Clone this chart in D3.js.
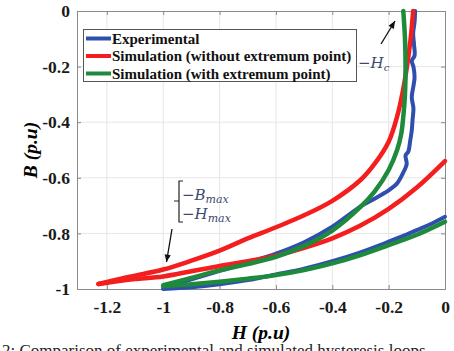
<!DOCTYPE html>
<html>
<head>
<meta charset="utf-8">
<script src="https://cdn.jsdelivr.net/npm/d3@7"></script>
<style>
  body { margin: 0; background: #fff; }
  svg { display: block; }
</style>
</head>
<body>
<div id="chart"></div>
<script>
// axis ticks
const hTicks = [-1.2, -1, -0.8, -0.6, -0.4, -0.2, 0]
const hTickLabels = ['-1.2', '-1', '-0.8', '-0.6', '-0.4', '-0.2', '0']
const bTicks = [-1, -0.8, -0.6, -0.4, -0.2, 0]
const bTickLabels = ['-1', '-0.8', '-0.6', '-0.4', '-0.2', '0']

const legendLabels = ['Experimental', 'Simulation (without extremum point)', 'Simulation (with extremum point)']

// experimental, upper branch (H, B)
const expUpperH = [-1.0, -0.9, -0.8, -0.7, -0.6, -0.5, -0.4, -0.35, -0.3, -0.25, -0.2, -0.17, -0.15, -0.136, -0.14, -0.13, -0.124, -0.118, -0.115, -0.112, -0.118, -0.112, -0.108, -0.112, -0.118, -0.108, -0.11, -0.113, -0.108, -0.106]
const expUpperB = [-0.997, -0.965, -0.935, -0.905, -0.873, -0.832, -0.776, -0.74, -0.703, -0.675, -0.645, -0.62, -0.585, -0.55, -0.52, -0.505, -0.47, -0.43, -0.39, -0.35, -0.31, -0.27, -0.24, -0.2, -0.18, -0.16, -0.12, -0.08, -0.04, 0]
// experimental, lower branch
const expLowerH = [-1.0, -0.9, -0.8, -0.7, -0.6, -0.5, -0.4, -0.3, -0.2, -0.15, -0.1, -0.05, 0]
const expLowerB = [-1.0, -0.994, -0.983, -0.968, -0.948, -0.927, -0.9, -0.868, -0.83, -0.81, -0.788, -0.766, -0.74]

// simulation without extremum point
const redUpperH = [-1.23, -1.15, -1.1, -1.0, -0.9, -0.8, -0.7, -0.6, -0.5, -0.4, -0.3, -0.25, -0.2, -0.17, -0.15, -0.135, -0.122, -0.113]
const redUpperB = [-0.982, -0.963, -0.952, -0.93, -0.898, -0.862, -0.818, -0.778, -0.735, -0.683, -0.608, -0.55, -0.47, -0.38, -0.29, -0.2, -0.1, 0]
const redLowerH = [-1.23, -1.15, -1.1, -1.0, -0.9, -0.8, -0.7, -0.6, -0.5, -0.4, -0.3, -0.2, -0.1, 0]
const redLowerB = [-0.982, -0.97, -0.964, -0.955, -0.936, -0.917, -0.9, -0.88, -0.852, -0.818, -0.772, -0.712, -0.635, -0.54]

// simulation with extremum point
const greenUpperH = [-1.0, -0.9, -0.8, -0.7, -0.6, -0.5, -0.4, -0.3, -0.25, -0.2, -0.17, -0.155, -0.148, -0.142, -0.14, -0.142, -0.148]
const greenUpperB = [-0.986, -0.96, -0.933, -0.91, -0.884, -0.845, -0.79, -0.705, -0.65, -0.572, -0.5, -0.44, -0.38, -0.3, -0.2, -0.1, 0]
const greenLowerH = [-1.0, -0.9, -0.8, -0.7, -0.6, -0.5, -0.4, -0.3, -0.2, -0.1, 0]
const greenLowerB = [-0.99, -0.983, -0.974, -0.963, -0.95, -0.932, -0.908, -0.878, -0.842, -0.805, -0.758]

const width = 454
const height = 351
const plotLeft = 77, plotRight = 445, plotTop = 11, plotBottom = 289

const blue = '#2f4fae'
const red = '#f41e1e'
const green = '#1e8a3c'

const xScale = d3.scaleLinear().domain([-1.306, 0]).range([plotLeft, plotRight])
const yScale = d3.scaleLinear().domain([-1, 0]).range([plotBottom, plotTop])

const svg = d3.select('#chart').append('svg').attr('width', width).attr('height', height)

// grid
svg.append('g').selectAll('line').data(hTicks.slice(0, -1))
  .enter().append('line')
  .attr('x1', function(d) { return xScale(d) })
  .attr('x2', function(d) { return xScale(d) })
  .attr('y1', plotTop).attr('y2', plotBottom)
  .attr('stroke', '#e6e6e6')
svg.append('g').selectAll('line').data(bTicks.slice(1, -1))
  .enter().append('line')
  .attr('y1', function(d) { return yScale(d) })
  .attr('y2', function(d) { return yScale(d) })
  .attr('x1', plotLeft).attr('x2', plotRight)
  .attr('stroke', '#e6e6e6')

// axes (matlab style, ticks inside)
const xAxis = d3.axisBottom(xScale).tickValues(hTicks)
  .tickFormat(function(d, i) { return hTickLabels[i] }).tickSize(-4).tickPadding(12)
const yAxis = d3.axisLeft(yScale).tickValues(bTicks)
  .tickFormat(function(d, i) { return bTickLabels[i] }).tickSize(-4).tickPadding(7)
const xTopAxis = d3.axisTop(xScale).tickValues(hTicks).tickFormat('').tickSize(-4)
const yRightAxis = d3.axisRight(yScale).tickValues(bTicks).tickFormat('').tickSize(-4)

svg.append('g').attr('class', 'axis').attr('transform', 'translate(0,' + plotBottom + ')').call(xAxis)
svg.append('g').attr('class', 'axis').attr('transform', 'translate(' + plotLeft + ',0)').call(yAxis)
svg.append('g').attr('class', 'axis').attr('transform', 'translate(0,' + plotTop + ')').call(xTopAxis)
svg.append('g').attr('class', 'axis').attr('transform', 'translate(' + plotRight + ',0)').call(yRightAxis)

svg.selectAll('.axis path').attr('stroke', '#8a8a8a')
svg.selectAll('.axis line').attr('stroke', '#8a8a8a')
svg.selectAll('.axis text')
  .attr('font-family', '"Liberation Serif", serif')
  .attr('font-weight', 'bold')
  .attr('font-size', '17.5px')
  .attr('fill', '#1a1a1a')

// curves
const lineGen = d3.line()
  .x(function(d) { return xScale(d[0]) })
  .y(function(d) { return yScale(d[1]) })
  .curve(d3.curveCatmullRom)

function pairs(hs, bs) {
  return hs.map(function(h, i) { return [h, bs[i]] })
}

const curves = [
  { pts: pairs(expLowerH, expLowerB), color: blue, w: 4 },
  { pts: pairs(expUpperH, expUpperB), color: blue, w: 4 },
  { pts: pairs(redLowerH, redLowerB), color: red, w: 4.5 },
  { pts: pairs(redUpperH, redUpperB), color: red, w: 4.5 },
  { pts: pairs(greenLowerH, greenLowerB), color: green, w: 4.5 },
  { pts: pairs(greenUpperH, greenUpperB), color: green, w: 4.5 }
]

svg.append('g').selectAll('path').data(curves)
  .enter().append('path')
  .attr('d', function(d) { return lineGen(d.pts) })
  .attr('fill', 'none')
  .attr('stroke', function(d) { return d.color })
  .attr('stroke-width', function(d) { return d.w })
  .attr('stroke-linecap', 'round')
  .attr('stroke-linejoin', 'round')

// legend
const legend = svg.append('g')
legend.append('rect')
  .attr('x', 83.5).attr('y', 29.5).attr('width', 273).attr('height', 52)
  .attr('fill', '#fff').attr('stroke', '#555').attr('stroke-width', 1)
const legendColors = [blue, red, green]
legendLabels.forEach(function(label, i) {
  const ly = 38.5 + i * 17.5
  legend.append('line')
    .attr('x1', 86).attr('x2', 111).attr('y1', ly).attr('y2', ly)
    .attr('stroke', legendColors[i]).attr('stroke-width', 4)
  legend.append('text')
    .attr('x', 112).attr('y', ly + 5)
    .attr('font-family', '"Liberation Serif", serif')
    .attr('font-weight', 'bold')
    .attr('font-size', '15px')
    .attr('fill', '#111')
    .text(label)
})

// annotations
const noteColor = '#3b4a6b'
function arrow(x1, y1, x2, y2) {
  svg.append('line').attr('x1', x1).attr('y1', y1).attr('x2', x2).attr('y2', y2)
    .attr('stroke', '#111').attr('stroke-width', 1.3)
  const a = Math.atan2(y2 - y1, x2 - x1)
  const s = 8
  const p = [
    [x2, y2],
    [x2 - s * Math.cos(a - 0.4), y2 - s * Math.sin(a - 0.4)],
    [x2 - s * Math.cos(a + 0.4), y2 - s * Math.sin(a + 0.4)]
  ]
  svg.append('path').attr('d', 'M' + p.join('L') + 'Z').attr('fill', '#111')
}

svg.append('text')
  .attr('x', 358).attr('y', 68)
  .attr('font-family', '"DejaVu Serif", serif')
  .attr('font-style', 'italic')
  .attr('font-size', '15px')
  .attr('fill', noteColor)
  .html('\u2212H<tspan font-size="10px" dy="3">c</tspan>')
arrow(381, 44, 395, 21)

svg.append('path')
  .attr('d', 'M183,181 L179,181 L179,201 L174,201 M179,201 L179,222 L183,222')
  .attr('fill', 'none').attr('stroke', '#222').attr('stroke-width', 1.2)
svg.append('text')
  .attr('x', 182).attr('y', 200)
  .attr('font-family', '"DejaVu Serif", serif')
  .attr('font-style', 'italic')
  .attr('font-size', '15px')
  .attr('fill', noteColor)
  .html('\u2212B<tspan font-size="11px" dy="3">max</tspan>')
svg.append('text')
  .attr('x', 182).attr('y', 219)
  .attr('font-family', '"DejaVu Serif", serif')
  .attr('font-style', 'italic')
  .attr('font-size', '15px')
  .attr('fill', noteColor)
  .html('\u2212H<tspan font-size="11px" dy="3">max</tspan>')
arrow(172, 229, 166.5, 262)

// axis titles
svg.append('text')
  .attr('x', 261).attr('y', 339)
  .attr('text-anchor', 'middle')
  .attr('font-family', '"Liberation Serif", serif')
  .attr('font-weight', 'bold').attr('font-style', 'italic')
  .attr('font-size', '19.5px')
  .text('H (p.u)')
svg.append('text')
  .attr('transform', 'translate(37,150) rotate(-90)')
  .attr('text-anchor', 'middle')
  .attr('font-family', '"Liberation Serif", serif')
  .attr('font-weight', 'bold').attr('font-style', 'italic')
  .attr('font-size', '19.5px')
  .text('B (p.u)')

// caption line, cut off by the bottom edge as in the source figure
svg.append('text')
  .attr('x', 2).attr('y', 356)
  .attr('font-family', '"Liberation Serif", serif')
  .attr('font-size', '17px')
  .attr('fill', '#222')
  .text('2: Comparison of experimental and simulated hysteresis loops')
</script>
</body>
</html>
